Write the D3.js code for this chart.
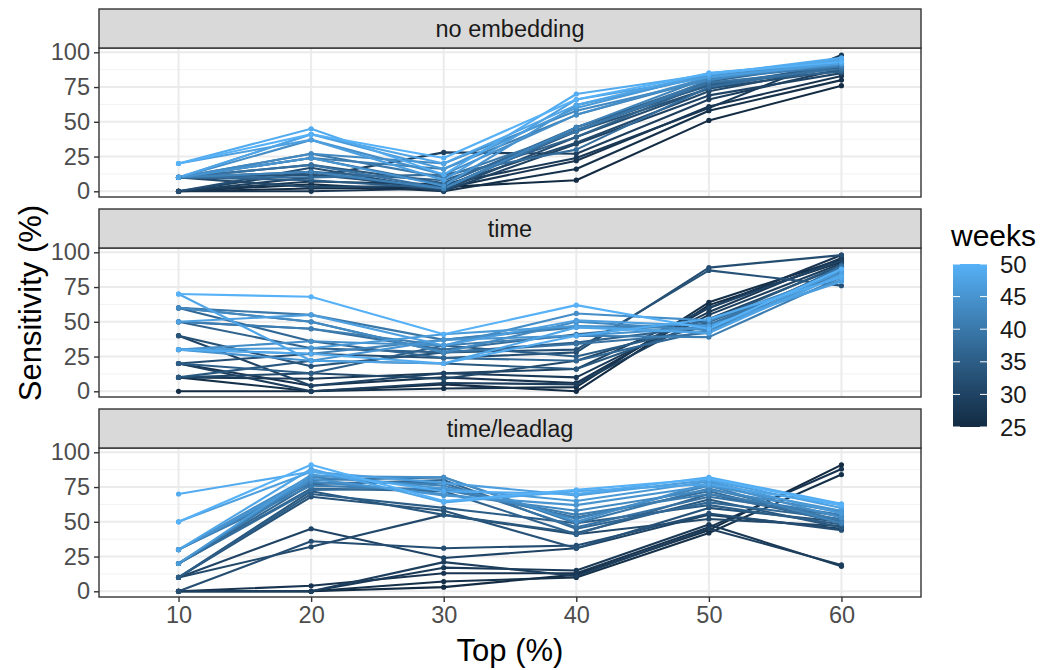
<!DOCTYPE html>
<html>
<head>
<meta charset="utf-8">
<script src="https://cdn.jsdelivr.net/npm/d3@7"></script>
<style>
  html, body { margin: 0; padding: 0; background: #ffffff; }
  svg { display: block; font-family: "Liberation Sans", Arial, Helvetica, sans-serif; }
</style>
</head>
<body>
<svg id="chart" width="1043" height="670"></svg>
<script>
// ---------- data ----------
const topLevels = [10, 20, 30, 40, 50, 60];
const yTicks = [0, 25, 50, 75, 100];
const legendTicks = [25, 30, 35, 40, 45, 50];
const facets = ["no embedding", "time", "time/leadlag"];
const weeks = d3.range(25, 51);

// Sensitivity (%) per week, values at Top = 10,20,30,40,50,60
const noEmbedding = [
  [0, 2, 3, 8, 51, 76],
  [0, 5, 0, 16, 58, 80],
  [0, 0, 2, 22, 61, 83],
  [0, 7, 5, 24, 60, 98],
  [0, 10, 28, 27, 66, 88],
  [0, 14, 0, 34, 69, 85],
  [10, 3, 4, 35, 72, 90],
  [0, 17, 1, 39, 74, 87],
  [10, 12, 3, 43, 74, 92],
  [10, 19, 6, 44, 77, 89],
  [10, 8, 2, 46, 76, 91],
  [10, 14, 8, 39, 78, 86],
  [10, 24, 5, 46, 79, 93],
  [10, 10, 12, 30, 75, 90],
  [10, 19, 2, 44, 78, 88],
  [10, 27, 10, 43, 80, 94],
  [10, 24, 16, 55, 81, 90],
  [10, 14, 2, 46, 82, 92],
  [10, 27, 20, 58, 80, 95],
  [10, 37, 12, 55, 82, 91],
  [10, 24, 4, 62, 83, 93],
  [10, 41, 16, 60, 84, 95],
  [20, 37, 8, 66, 82, 92],
  [10, 41, 20, 62, 85, 94],
  [20, 45, 12, 70, 84, 96],
  [20, 41, 24, 66, 85, 93]
];
const timeEmb = [
  [0, 0, 5, 0, 62, 93],
  [10, 0, 2, 3, 64, 95],
  [20, 4, 10, 6, 60, 98],
  [10, 9, 13, 10, 57, 96],
  [20, 0, 6, 5, 55, 92],
  [40, 4, 13, 16, 60, 94],
  [10, 13, 9, 22, 52, 90],
  [20, 27, 24, 28, 89, 98],
  [40, 18, 28, 30, 87, 76],
  [10, 22, 20, 16, 50, 91],
  [20, 13, 33, 25, 47, 88],
  [50, 31, 28, 35, 47, 86],
  [60, 36, 24, 22, 44, 89],
  [50, 45, 30, 41, 50, 84],
  [60, 50, 28, 34, 42, 90],
  [60, 55, 37, 46, 48, 86],
  [50, 45, 33, 40, 39, 82],
  [30, 27, 37, 47, 45, 88],
  [60, 50, 28, 50, 44, 84],
  [30, 36, 33, 56, 51, 85],
  [30, 22, 37, 40, 46, 80],
  [30, 31, 41, 47, 42, 87],
  [50, 55, 33, 51, 47, 79],
  [70, 22, 20, 46, 42, 84],
  [30, 27, 20, 40, 52, 82],
  [70, 68, 41, 62, 45, 88]
];
const leadlagEmb = [
  [0, 0, 3, 12, 44, 91],
  [0, 0, 7, 10, 42, 84],
  [0, 4, 13, 13, 46, 88],
  [0, 0, 17, 15, 48, 18],
  [0, 0, 21, 11, 45, 19],
  [10, 45, 24, 31, 55, 45],
  [10, 32, 55, 41, 52, 47],
  [0, 36, 31, 33, 56, 44],
  [10, 68, 58, 31, 60, 50],
  [10, 72, 55, 42, 66, 46],
  [10, 70, 60, 49, 62, 48],
  [20, 74, 72, 41, 70, 50],
  [20, 77, 80, 45, 64, 52],
  [20, 73, 74, 53, 72, 49],
  [30, 78, 78, 46, 68, 54],
  [20, 80, 82, 49, 74, 51],
  [30, 76, 73, 55, 70, 55],
  [20, 82, 76, 52, 76, 49],
  [30, 79, 70, 58, 73, 57],
  [30, 83, 82, 50, 78, 53],
  [30, 81, 69, 62, 76, 58],
  [20, 84, 74, 65, 79, 56],
  [50, 86, 78, 69, 80, 60],
  [30, 88, 64, 72, 77, 62],
  [70, 86, 72, 70, 82, 63],
  [50, 91, 65, 73, 81, 62]
];
const facetData = [noEmbedding, timeEmb, leadlagEmb];

// ---------- layout ----------
const svg = d3.select("#chart");
const panelLeft = 99, panelRight = 921;
const panelTops = [48, 248, 448];
const panelH = 149;
const stripH = 39;
const font = '"Liberation Sans", Arial, Helvetica, sans-serif';
const tickFont = 23.5, stripFont = 23.5, titleFont = 31;

const x = d3.scalePoint().domain(topLevels).range([panelLeft, panelRight]).padding(0.6);
const color = d3.scaleLinear().domain([25, 50]).range(["#132B43", "#56B1F7"]).interpolate(d3.interpolateLab);

facets.forEach((name, fi) => {
  const top = panelTops[fi];
  const y = d3.scaleLinear().domain([-4.1, 103.1]).range([top + panelH, top]);
  const g = svg.append("g");

  g.append("rect").attr("x", panelLeft).attr("y", top).attr("width", panelRight - panelLeft).attr("height", panelH).attr("fill", "#ffffff");

  const minor = [12.5, 37.5, 62.5, 87.5];
  g.selectAll(".ymin").data(minor).join("line")
    .attr("x1", panelLeft).attr("x2", panelRight)
    .attr("y1", d => y(d)).attr("y2", d => y(d))
    .attr("stroke", "#F2F2F2").attr("stroke-width", 1);
  g.selectAll(".ymaj").data(yTicks).join("line")
    .attr("x1", panelLeft).attr("x2", panelRight)
    .attr("y1", d => y(d)).attr("y2", d => y(d))
    .attr("stroke", "#EBEBEB").attr("stroke-width", 2);
  g.selectAll(".xmaj").data(topLevels).join("line")
    .attr("y1", top).attr("y2", top + panelH)
    .attr("x1", d => x(d)).attr("x2", d => x(d))
    .attr("stroke", "#EBEBEB").attr("stroke-width", 2);

  const rows = facetData[fi].map((vals, i) => ({ week: weeks[i], vals }));
  const line = d3.line().x((d, i) => x(topLevels[i])).y(d => y(d));
  g.selectAll(".ln").data(rows).join("path")
    .attr("d", r => line(r.vals))
    .attr("fill", "none")
    .attr("stroke", r => color(r.week))
    .attr("stroke-width", 2.1)
    .attr("stroke-linejoin", "round");
  rows.forEach(r => {
    g.selectAll(null).data(r.vals).join("circle")
      .attr("cx", (d, i) => x(topLevels[i]))
      .attr("cy", d => y(d))
      .attr("r", 2.6)
      .attr("fill", color(r.week));
  });

  g.append("rect").attr("x", panelLeft).attr("y", top).attr("width", panelRight - panelLeft).attr("height", panelH)
    .attr("fill", "none").attr("stroke", "#333333").attr("stroke-width", 1.4);

  g.append("rect").attr("x", panelLeft).attr("y", top - stripH).attr("width", panelRight - panelLeft).attr("height", stripH)
    .attr("fill", "#D9D9D9").attr("stroke", "#333333").attr("stroke-width", 1.4);
  g.append("text").attr("x", (panelLeft + panelRight) / 2).attr("y", top - stripH / 2)
    .attr("text-anchor", "middle").attr("dominant-baseline", "central")
    .attr("font-size", stripFont).attr("fill", "#1A1A1A").text(name);

  const yAxis = d3.axisLeft(y).tickValues(yTicks).tickSize(5).tickPadding(4);
  const ya = g.append("g").attr("transform", `translate(${panelLeft},0)`).call(yAxis);
  ya.select(".domain").remove();
  ya.selectAll(".tick line").attr("stroke", "#333333").attr("stroke-width", 1.4);
  ya.selectAll(".tick text").attr("font-size", tickFont).attr("fill", "#4D4D4D").attr("font-family", font);

  if (fi === facets.length - 1) {
    const xAxis = d3.axisBottom(x).tickSize(5).tickPadding(4);
    const xa = g.append("g").attr("transform", `translate(0,${top + panelH})`).call(xAxis);
    xa.select(".domain").remove();
    xa.selectAll(".tick line").attr("stroke", "#333333").attr("stroke-width", 1.4);
    xa.selectAll(".tick text").attr("font-size", tickFont).attr("fill", "#4D4D4D").attr("font-family", font);
  }
});

svg.append("text").attr("x", (panelLeft + panelRight) / 2).attr("y", 661)
  .attr("text-anchor", "middle").attr("font-size", titleFont).attr("fill", "#000000").text("Top (%)");
svg.append("text").attr("transform", "translate(41,303) rotate(-90)")
  .attr("text-anchor", "middle").attr("font-size", titleFont).attr("fill", "#000000").text("Sensitivity (%)");

const legX = 953, legTop = 264, legBottom = 427, legW = 34;
svg.append("text").attr("x", 951).attr("y", 246).attr("font-size", 30).attr("fill", "#000000").text("weeks");
const defs = svg.append("defs");
const grad = defs.append("linearGradient").attr("id", "wgrad").attr("x1", 0).attr("y1", 1).attr("x2", 0).attr("y2", 0);
d3.range(0, 1.0001, 0.05).forEach(t => {
  grad.append("stop").attr("offset", t).attr("stop-color", color(25 + t * 25));
});
svg.append("rect").attr("x", legX).attr("y", legTop).attr("width", legW).attr("height", legBottom - legTop).attr("fill", "url(#wgrad)");
const ly = d3.scaleLinear().domain([25, 50]).range([legBottom, legTop]);
svg.selectAll(".lt1").data(legendTicks).join("line")
  .attr("x1", legX).attr("x2", legX + 7).attr("y1", d => ly(d)).attr("y2", d => ly(d))
  .attr("stroke", "#ffffff").attr("stroke-width", 1);
svg.selectAll(".lt2").data(legendTicks).join("line")
  .attr("x1", legX + legW - 7).attr("x2", legX + legW).attr("y1", d => ly(d)).attr("y2", d => ly(d))
  .attr("stroke", "#ffffff").attr("stroke-width", 1);
svg.selectAll(".ll").data(legendTicks).join("text")
  .attr("x", 1000).attr("y", d => ly(d)).attr("dominant-baseline", "central")
  .attr("font-size", 24).attr("fill", "#1A1A1A").text(d => d);
</script>
</body>
</html>
